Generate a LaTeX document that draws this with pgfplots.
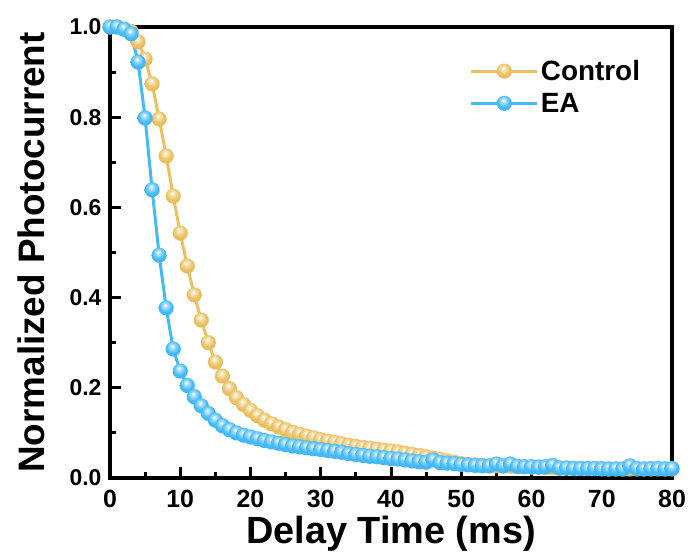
\documentclass[border=0pt]{standalone}
\usepackage{pgfplots}
\pgfplotsset{compat=1.18}
\usepackage{fontspec}
\setmainfont{Liberation Sans}
\definecolor{ctrl}{RGB}{234,192,96}
\definecolor{eab}{RGB}{68,186,250}
\pgfdeclareradialshading{ctrlball}{\pgfpoint{-4bp}{10bp}}{color(0bp)=(white); color(7bp)=(white!55!ctrl); color(20bp)=(ctrl); color(45bp)=(ctrl!95!black); color(70bp)=(ctrl!88!black)}
\pgfdeclareradialshading{eaball}{\pgfpoint{-4bp}{10bp}}{color(0bp)=(white); color(7bp)=(white!55!eab); color(20bp)=(eab); color(45bp)=(eab!95!black); color(70bp)=(eab!88!black)}
\pgfdeclareplotmark{cball}{\pgfpathcircle{\pgfpointorigin}{\pgfplotmarksize}\pgfshadepath{ctrlball}{0}\pgfusepath{discard}}
\pgfdeclareplotmark{eball}{\pgfpathcircle{\pgfpointorigin}{\pgfplotmarksize}\pgfshadepath{eaball}{0}\pgfusepath{discard}}
\begin{document}
\begin{tikzpicture}[x=1bp,y=1bp]
\begin{axis}[
  scale only axis,
  width=562bp, height=451bp,
  xmin=0, xmax=80, ymin=0, ymax=1.0,
  xtick={0,10,...,80}, ytick={0,0.2,...,1.0},
  minor xtick={5,15,...,75}, minor ytick={0.1,0.3,...,0.9},
  tick pos=left, tick align=inside,
  major tick length=11bp, minor tick length=6bp,
  every tick/.style={line width=3bp, black},
  axis line style={line width=4.5bp},
  /pgf/number format/assume math mode=true,
  yticklabel style={/pgf/number format/fixed, /pgf/number format/fixed zerofill, /pgf/number format/precision=1,
    font=\fontsize{23}{26}\selectfont\bfseries, xshift=-5bp},
  xticklabel style={font=\fontsize{25}{28}\selectfont\bfseries, anchor=base, yshift=-29bp},
  xlabel={Delay Time (ms)}, ylabel={Normalized Photocurrent},
  xlabel style={font=\fontsize{38}{40}\selectfont\bfseries, at={(axis description cs:0.5,0)}, anchor=base, yshift=-65bp},
  ylabel style={font=\fontsize{37}{38}\selectfont\bfseries, at={(axis description cs:-0.1406,0.5)}, anchor=center},
  legend style={at={(axis cs:51.2,0.867)}, anchor=west, draw=none, fill=none, inner sep=0pt,
    font=\fontsize{28}{30}\selectfont\bfseries, row sep=7bp},
  legend cell align=left,
  legend image code/.code={\draw[mark repeat=2,mark phase=2] plot coordinates {(0bp,0bp) (33bp,0bp) (66bp,0bp)};},
]
\addplot[ctrl, line width=3bp, mark=cball, mark size=7.6bp] coordinates {
(0,1.0)(1,1.0)(2,0.995)(3,0.99)(4,0.967)(5,0.929)(6,0.874)(7,0.796)(8,0.714)(9,0.625)
(10,0.543)(11,0.470)(12,0.406)(13,0.350)(14,0.300)(15,0.257)(16,0.226)(17,0.198)(18,0.178)(19,0.163)
(20,0.150)(21,0.138)(22,0.128)(23,0.120)(24,0.113)(25,0.107)(26,0.101)(27,0.097)(28,0.093)(29,0.089)
(30,0.085)(31,0.082)(32,0.079)(33,0.076)(34,0.073)(35,0.070)(36,0.068)(37,0.066)(38,0.064)(39,0.062)
(40,0.060)(41,0.058)(42,0.055)(43,0.052)(44,0.050)(45,0.047)(46,0.044)(47,0.041)(48,0.038)(49,0.035)
(50,0.032)(51,0.030)(52,0.029)(53,0.028)(54,0.027)(55,0.027)(56,0.026)(57,0.026)(58,0.025)(59,0.025)
(60,0.024)(61,0.024)(62,0.023)(63,0.023)(64,0.022)(65,0.022)(66,0.022)(67,0.021)(68,0.021)(69,0.021)
(70,0.021)(71,0.020)(72,0.020)(73,0.020)(74,0.020)(75,0.020)(76,0.020)(77,0.020)(78,0.020)(79,0.020)(80,0.020)
};
\addlegendentry{Control}
\addplot[eab, line width=3bp, mark=eball, mark size=7.6bp] coordinates {
(0,1.0)(1,1.0)(2,0.995)(3,0.985)(4,0.922)(5,0.798)(6,0.639)(7,0.494)(8,0.377)(9,0.286)
(10,0.237)(11,0.205)(12,0.180)(13,0.160)(14,0.143)(15,0.128)(16,0.116)(17,0.107)(18,0.100)(19,0.095)
(20,0.091)(21,0.087)(22,0.083)(23,0.080)(24,0.077)(25,0.074)(26,0.071)(27,0.069)(28,0.067)(29,0.065)
(30,0.063)(31,0.061)(32,0.059)(33,0.057)(34,0.054)(35,0.052)(36,0.050)(37,0.048)(38,0.047)(39,0.045)
(40,0.043)(41,0.042)(42,0.040)(43,0.038)(44,0.036)(45,0.035)(46,0.040)(47,0.034)(48,0.033)(49,0.032)
(50,0.030)(51,0.029)(52,0.028)(53,0.027)(54,0.027)(55,0.031)(56,0.027)(57,0.031)(58,0.026)(59,0.025)
(60,0.025)(61,0.024)(62,0.025)(63,0.028)(64,0.022)(65,0.022)(66,0.021)(67,0.021)(68,0.021)(69,0.021)
(70,0.020)(71,0.020)(72,0.020)(73,0.020)(74,0.027)(75,0.021)(76,0.020)(77,0.021)(78,0.021)(79,0.020)(80,0.021)
};
\addlegendentry{EA}
\coordinate (SW) at (rel axis cs:0,0);
\coordinate (NE) at (rel axis cs:1,1);
\end{axis}
\pgfresetboundingbox
\path[use as bounding box] ([shift={(-110bp,-79bp)}]SW) rectangle ([shift={(19bp,27bp)}]NE);
\end{tikzpicture}
\end{document}
